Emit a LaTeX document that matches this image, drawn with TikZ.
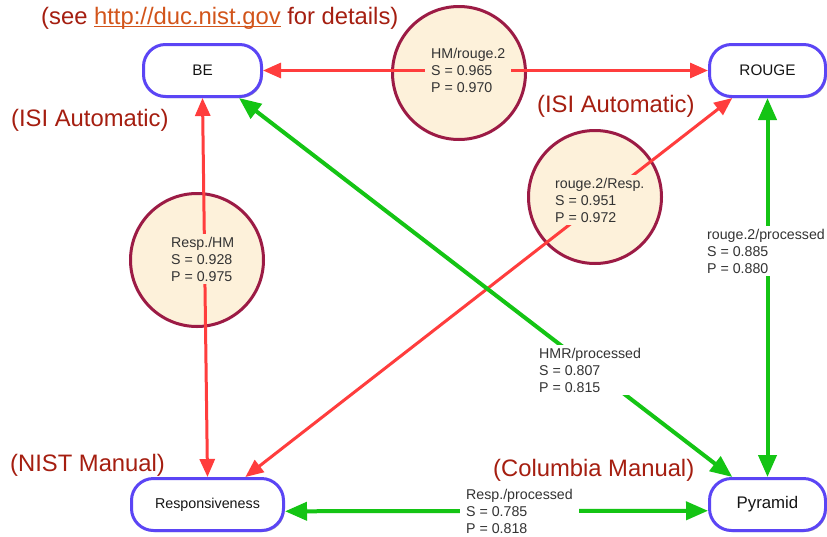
\documentclass[tikz,border=0pt]{standalone}
\usepackage{fontspec}
\setmainfont{Liberation Sans}
\usetikzlibrary{arrows.meta,shadows}
\definecolor{boxblue}{HTML}{5B45F5}
\definecolor{ringred}{HTML}{9C1B45}
\definecolor{ringfill}{HTML}{FDF1DA}
\definecolor{edgered}{HTML}{FF3D3D}
\definecolor{edgegreen}{HTML}{14C414}
\definecolor{notered}{HTML}{A51E10}
\definecolor{linkorange}{HTML}{D2541A}
\definecolor{labgray}{HTML}{333333}
\definecolor{boxtext}{HTML}{151515}
\newcommand\myul[1]{\setbox0\hbox{#1}\rlap{\rule[-2.8pt]{\wd0}{1.3pt}}\box0}
\begin{document}
\begin{tikzpicture}[x=1pt,y=-1pt,
  metric/.style={draw=boxblue, line width=3pt, fill=white, rounded corners=22pt,
    inner sep=0pt, minimum height=52pt, text=boxtext,
    drop shadow={shadow xshift=1.2pt, shadow yshift=-1.5pt, opacity=0.3, fill=black}},
  ring/.style={circle, draw=ringred, line width=3pt, fill=ringfill, minimum size=133pt, inner sep=0pt},
  corr/.style={font=\fontsize{14.2}{17}\selectfont, text=labgray, align=left, anchor=west,
    inner xsep=6pt, inner ysep=3pt},
  note/.style={font=\fontsize{23.8}{28}\selectfont, text=notered, anchor=west, inner sep=0pt},
  redlink/.style={draw=edgered, line width=3pt,
    {Triangle[length=18pt,width=15pt]}-{Triangle[length=18pt,width=15pt]}},
  greenlink/.style={draw=edgegreen, line width=4pt,
    {Triangle[length=22pt,width=18pt]}-{Triangle[length=22pt,width=18pt]}}
]
\fill[white] (0,0) rectangle (827,536);
\useasboundingbox (0,0) rectangle (827,536);

% metric boxes
\node[metric, minimum width=118pt, font=\fontsize{15.3}{18}\selectfont] (be) at (202.5,70.5) {BE};
\node[metric, minimum width=116pt, font=\fontsize{15.3}{18}\selectfont] (rouge) at (767.5,70.5) {ROUGE};
\node[metric, minimum width=152pt, font=\fontsize{14.3}{17}\selectfont] (resp) at (207.5,504.5) {Responsiveness};
\node[metric, minimum width=116pt, font=\fontsize{16.8}{20}\selectfont] (pyr) at (767.5,504.5) {Pyramid};

% rings
\node[ring] (c1) at (459,73) {};
\node[ring] (c2) at (197,260) {};
\node[ring] (c3) at (595,197) {};

% connectors
\draw[redlink] (be.east) -- (rouge.west);
\draw[redlink] (be.south) -- (resp.north);
\draw[redlink] (rouge.218) -- (resp.36);
\draw[greenlink] (be.-37) -- (pyr.142);
\draw[greenlink] (rouge.south) -- (pyr.north);
\draw[greenlink] (resp.-5) -- (pyr.186);

% correlation labels
\node[corr, fill=ringfill] (l1) at (425,70) {HM/rouge.2\\S = 0.965\\P = 0.970};
\node[corr, fill=ringfill] (l2) at (165,259) {Resp./HM\\S = 0.928\\P = 0.975};
\node[corr, fill=ringfill] (l3) at (549,200) {rouge.2/Resp.\\S = 0.951\\P = 0.972};
\node[corr, fill=white] (l4) at (701,251) {rouge.2/processed\\S = 0.885\\P = 0.880};
\node[corr, fill=white] (l5) at (533,370) {HMR/processed\\S = 0.807\\P = 0.815};
\node[corr, fill=white] (l6) at (460,511) {Resp./processed\\S = 0.785\\P = 0.818};

% notes
\node[note] (n0) at (41,18) {(see \textcolor{linkorange}{\myul{http://duc.nist.gov}} for details)};
\node[note] (n1) at (11,120) {(ISI Automatic)};
\node[note] (n2) at (537,106) {(ISI Automatic)};
\node[note] (n3) at (10,465) {(NIST Manual)};
\node[note] (n4) at (493,470) {(Columbia Manual)};
\end{tikzpicture}
\end{document}
